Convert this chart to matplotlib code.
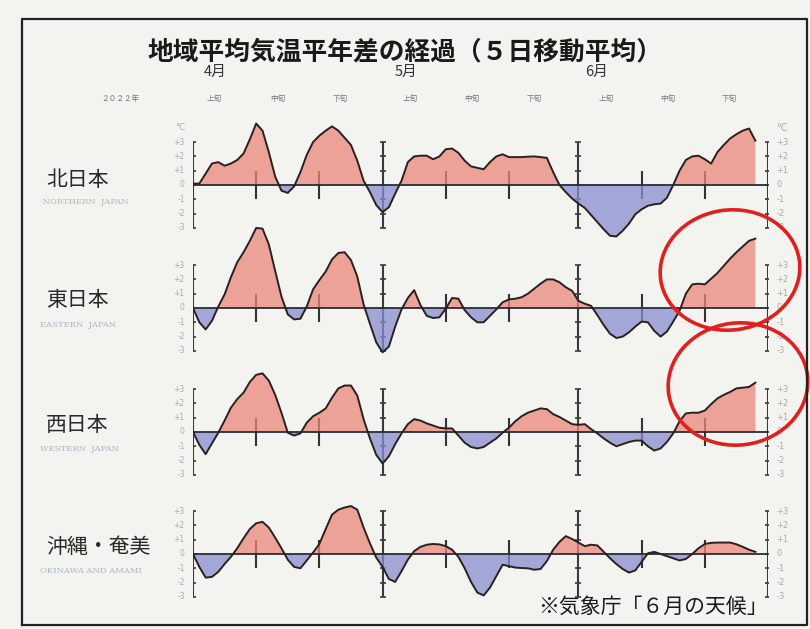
import matplotlib
matplotlib.use('Agg')
import matplotlib.pyplot as plt
from matplotlib.patches import Ellipse
import numpy as np

plt.rcParams['font.family'] = ['Noto Sans CJK JP', 'DejaVu Sans']

# ---- data (day 0 = April 1, 2022; 5-day running mean anomaly, degC) ----
days = list(range(90))

north = [0.1, 0.1, 0.8, 1.5, 1.6, 1.35, 1.5, 1.75, 2.2, 3.2,
         4.3, 3.8, 2.3, 0.6, -0.4, -0.55, -0.1, 0.9, 2.1, 3.0,
         3.45, 3.8, 4.1, 3.8, 3.3, 2.8, 1.7, 0.3, -0.5, -1.4,
         -1.9, -1.55, -0.6, 0.3, 1.6, 2.0, 2.05, 2.05, 1.8, 2.0,
         2.5, 2.55, 2.25, 1.7, 1.3, 1.2, 1.1, 1.6, 2.0, 2.15,
         1.95, 1.95, 1.95, 1.98, 2.0, 1.95, 1.9, 0.9, 0.0, -0.5,
         -0.95, -1.3, -1.6, -2.1, -2.6, -3.1, -3.55, -3.6, -3.2, -2.7,
         -2.05, -1.7, -1.45, -1.35, -1.3, -0.9, 0.0, 1.0, 1.75, 2.0,
         2.05, 1.8, 1.5, 2.3, 2.8, 3.25, 3.55, 3.8, 3.95, 3.1]

east = [0.0, -1.0, -1.5, -0.9, 0.1, 0.95, 2.15, 3.2, 3.9, 4.7,
        5.6, 5.55, 4.45, 2.6, 0.8, -0.45, -0.8, -0.75, 0.1, 1.3,
        1.95, 2.55, 3.4, 3.85, 3.9, 3.35, 2.2, 0.25, -1.1, -2.4,
        -3.1, -2.7, -1.3, -0.1, 0.7, 1.25, 0.2, -0.55, -0.7, -0.65,
        -0.05, 0.7, 0.65, -0.15, -0.65, -1.0, -1.0, -0.55, -0.1, 0.4,
        0.6, 0.65, 0.75, 1.0, 1.35, 1.7, 2.0, 2.0, 1.8, 1.45,
        1.2, 0.5, 0.3, 0.15, -0.5, -1.2, -1.8, -2.1, -2.0, -1.7,
        -1.3, -0.95, -1.0, -1.6, -2.0, -1.65, -0.95, -0.2, 1.0, 1.65,
        1.7, 1.65, 2.05, 2.45, 2.95, 3.45, 3.9, 4.3, 4.7, 4.85]

west = [0.0, -0.9, -1.55, -0.8, -0.05, 0.8, 1.7, 2.3, 2.75, 3.5,
        4.0, 4.1, 3.6, 2.6, 1.35, -0.05, -0.25, -0.1, 0.65, 1.1,
        1.35, 1.65, 2.4, 3.05, 3.25, 3.25, 2.55, 0.9, -0.45, -1.6,
        -2.2, -1.7, -0.85, -0.1, 0.55, 0.9, 0.8, 0.6, 0.45, 0.3,
        0.25, 0.25, -0.25, -0.75, -1.05, -1.15, -1.05, -0.75, -0.45, -0.05,
        0.3, 0.75, 1.1, 1.35, 1.5, 1.65, 1.6, 1.25, 1.05, 0.8,
        0.55, 0.5, 0.55, 0.2, -0.1, -0.45, -0.75, -1.0, -0.85, -0.7,
        -0.6, -0.6, -1.0, -1.3, -1.15, -0.7, -0.1, 0.75, 1.3, 1.35,
        1.35, 1.5, 1.95, 2.35, 2.6, 2.8, 3.05, 3.1, 3.15, 3.45]

okinawa = [0.0, -0.9, -1.65, -1.6, -1.25, -0.7, -0.2, 0.4, 1.1, 1.75,
           2.15, 2.25, 1.85, 1.15, 0.4, -0.4, -0.9, -1.0, -0.45, 0.1,
           0.7, 1.75, 2.75, 3.1, 3.25, 3.35, 3.1, 1.85, 0.75, -0.25,
           -0.9, -1.75, -1.95, -1.2, -0.4, 0.2, 0.5, 0.65, 0.7, 0.67,
           0.55, 0.3, -0.2, -1.0, -1.95, -2.7, -2.9, -2.35, -1.55, -0.75,
           -0.85, -0.95, -0.98, -1.0, -1.1, -1.05, -0.5, 0.3, 0.85, 1.25,
           1.05, 0.8, 0.55, 0.65, 0.6, 0.15, -0.3, -0.7, -1.05, -1.3,
           -1.15, -0.55, 0.05, 0.15, 0.0, -0.15, -0.3, -0.45, -0.35, 0.0,
           0.4, 0.7, 0.78, 0.8, 0.8, 0.8, 0.68, 0.5, 0.3, 0.15]

series = [north, east, west, okinawa]
regions = ['北日本', '東日本', '西日本', '沖縄・奄美']
regions_en = ['·NORTHERN  JAPAN', 'EASTERN  JAPAN', 'WESTERN  JAPAN', 'OKINAWA AND AMAMI']
months = ['4月', '5月', '6月']
jun_labels = ['上旬', '中旬', '下旬'] * 3
y_ticks = [3, 2, 1, 0, -1, -2, -3]
y_labels = ['+3', '+2', '+1', '0', '-1', '-2', '-3']
month_start_days = [0, 30, 61, 91]
jun_days = [10, 20, 40, 50, 71, 81]

# ---- layout helpers ----
W, H = 810, 629
fig = plt.figure(figsize=(8.1, 6.29), dpi=100, facecolor='#f3f3f0')


def fx(x):
    return x / W


def fy(y):
    return 1 - y / H


pos_c = (235 / 255, 135 / 255, 122 / 255)
neg_c = (135 / 255, 142 / 255, 208 / 255)
label_grey = '#ababab'

zero_px = [185, 308, 432, 554]
ppd = 14.3
x0_px, x1_px = 193, 768
ylo, yhi = -4.3, 6.3

for i, (vals, zp) in enumerate(zip(series, zero_px)):
    bottom_px = zp + (-ylo) * ppd
    height_px = (yhi - ylo) * ppd
    ax = fig.add_axes([fx(x0_px), 1 - bottom_px / H, (x1_px - x0_px) / W, height_px / H])
    ax.set_xlim(0, 91)
    ax.set_ylim(ylo, yhi)
    ax.axis('off')
    ax.patch.set_alpha(0)
    d = np.array(days, dtype=float)
    v = np.array(vals, dtype=float)
    # axes (under fills)
    for md in month_start_days:
        ax.plot([md, md], [-3, 3], color='#3a3a3a', lw=1.5, zorder=2, solid_capstyle='butt')
        ax.plot([md] * len(y_ticks), y_ticks, ls='none', marker='_', ms=5, mew=1.2,
                color='#3a3a3a', zorder=2)
    ax.vlines(jun_days, -1, 1, color='#333333', lw=1.5, zorder=2)
    # fills
    ax.fill_between(d, v, 0, where=v >= 0, interpolate=True, color=pos_c, alpha=0.75, lw=0, zorder=3)
    ax.fill_between(d, v, 0, where=v <= 0, interpolate=True, color=neg_c, alpha=0.75, lw=0, zorder=3)
    ax.plot([0, 91.5], [0, 0], color='#2b2b3a', lw=1.3, zorder=4)
    ax.plot(d, v, color='#2a2020', lw=1.4, zorder=5)
    # tick labels
    for t, lab in zip(y_ticks, y_labels):
        ax.text(-1.3, t, lab, ha='right', va='center', fontsize=5.5, color=label_grey,
                family='DejaVu Sans')
        ax.text(92.3, t, lab, ha='left', va='center', fontsize=6, color=label_grey,
                family='DejaVu Sans')
    if i == 0:
        ax.text(-1.3, 4.0, '°C', ha='right', va='center', fontsize=6, color=label_grey,
                family='DejaVu Sans')
        ax.text(92.3, 4.0, '°C', ha='left', va='center', fontsize=7, color=label_grey,
                family='DejaVu Sans')

# ---- frame ----
frame = fig.add_axes([0, 0, 1, 1])
frame.set_xlim(0, W)
frame.set_ylim(H, 0)
frame.axis('off')
frame.patch.set_alpha(0)
frame.plot([22, 22, 807, 807, 22], [625, 19, 19, 625, 625], color='#222222', lw=1.6)

# ---- texts ----
fig.text(fx(405), fy(52), '地域平均気温平年差の経過（５日移動平均）', ha='center', va='center',
         fontsize=18.5, color='#1a1a1a', weight='bold')
for m, xp in zip(months, [215, 406, 597]):
    fig.text(fx(xp), fy(72), m, ha='center', va='center', fontsize=10.5, color='#333333')
for lab, xp in zip(jun_labels, [214, 278, 340, 410, 472, 534, 606, 668, 729]):
    fig.text(fx(xp), fy(99), lab, ha='center', va='center', fontsize=5.5, color='#777777')
fig.text(fx(120), fy(99), '２０２２年', ha='center', va='center', fontsize=5.5, color='#777777')

region_y = [180, 300, 425, 547]
en_y = [202, 325, 449, 571]
for r, ry, e, ey in zip(regions, region_y, regions_en, en_y):
    fig.text(fx(46), fy(ry), r, ha='left', va='center', fontsize=15, color='#2a2a2a')
    fig.text(fx(40), fy(ey), e, ha='left', va='center', fontsize=6, color='#a9b6c6',
             family='DejaVu Serif')

fig.text(fx(768), fy(607), '※気象庁「６月の天候」', ha='right', va='center', fontsize=15,
         color='#1a1a1a')

# red hand-drawn circles
frame.add_patch(Ellipse((730, 270), 140, 120, angle=-8, fill=False, ec='#e0201e', lw=2.6))
frame.add_patch(Ellipse((738, 384), 140, 122, angle=-8, fill=False, ec='#e0201e', lw=2.6))

fig.savefig('out.png', dpi=100, facecolor=fig.get_facecolor())
